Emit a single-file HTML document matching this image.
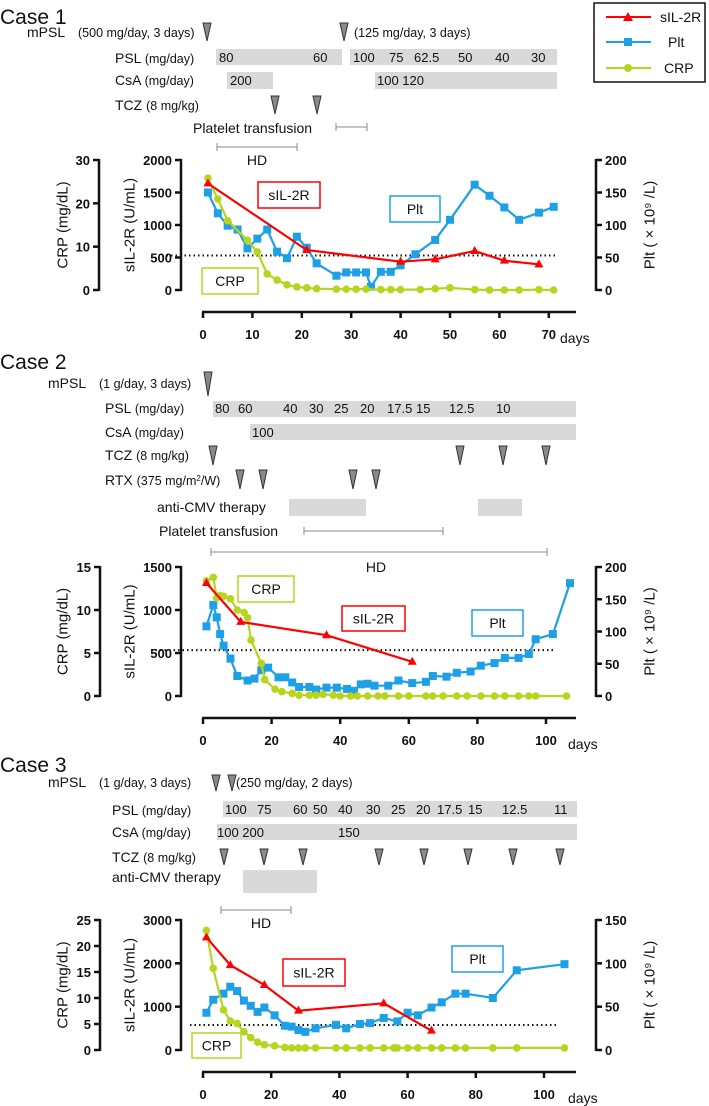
<!DOCTYPE html>
<html><head><meta charset="utf-8">
<style>
body{margin:0;background:#fff;}
svg{display:block;font-family:"Liberation Sans",sans-serif;}
.lbl{font-size:14px;fill:#111}
.sm{font-size:12.5px;fill:#111}
.num{font-size:13px;fill:#111}
.tk{font-size:13px;font-weight:bold;fill:#111}
.ttl{font-size:15px;fill:#111}
</style></head>
<body>
<svg id="fig" width="709" height="1106" viewBox="0 0 709 1106" xmlns="http://www.w3.org/2000/svg">
<g>
<rect x="594" y="3" width="111" height="79" fill="#fff" stroke="#111" stroke-width="1.5"/>
<g><line x1="606" y1="17" x2="651" y2="17" stroke="#ff0000" stroke-width="2"/><polygon points="628,12 633,21 623,21" fill="#ff0000"/><text x="660" y="22" class="lbl">sIL-2R</text></g>
<g><line x1="606" y1="42" x2="651" y2="42" stroke="#1ea0e6" stroke-width="2"/><rect x="624" y="38" width="8" height="8" fill="#1ea0e6"/><text x="668" y="47" class="lbl">Plt</text></g>
<g><line x1="606" y1="68" x2="651" y2="68" stroke="#b8d41c" stroke-width="2"/><circle cx="628" cy="68" r="4" fill="#b8d41c"/><text x="664" y="73" class="lbl">CRP</text></g>
</g>

<g>
<text x="0" y="24" font-size="21" fill="#111">Case 1</text>
<text x="27" y="37" class="lbl">mPSL</text><text x="78" y="37" class="sm">(500 mg/day, 3 days)</text>
<text x="354" y="37" class="sm">(125 mg/day, 3 days)</text>
<text x="115" y="63" class="lbl">PSL <tspan class="sm">(mg/day)</tspan></text>
<rect x="216" y="49" width="126" height="16" fill="#d9d9d9"/>
<rect x="350" y="49" width="207" height="16" fill="#d9d9d9"/>
<text y="62" class="num"><tspan x="219">80</tspan><tspan x="313">60</tspan><tspan x="353">100</tspan><tspan x="389">75</tspan><tspan x="414">62.5</tspan><tspan x="458">50</tspan><tspan x="495">40</tspan><tspan x="531">30</tspan></text>
<text x="115" y="85" class="lbl">CsA <tspan class="sm">(mg/day)</tspan></text>
<rect x="227" y="72" width="46" height="17" fill="#d9d9d9"/>
<rect x="375" y="72" width="182" height="17" fill="#d9d9d9"/>
<text y="85" class="num"><tspan x="230">200</tspan><tspan x="377">100 120</tspan></text>
<text x="115" y="110" class="lbl">TCZ <tspan class="sm">(8 mg/kg)</tspan></text>
<text x="193" y="133" class="lbl">Platelet transfusion</text>
<path d="M336 123v8M336 127H367M367 123v8" stroke="#888" fill="none"/>
<path d="M217 143v8M217 147H297M297 143v8" stroke="#888" fill="none"/>
<text x="257" y="165" class="lbl" text-anchor="middle">HD</text>
</g>

<g>
<text x="0" y="369" font-size="21" fill="#111">Case 2</text>
<text x="48" y="388" class="lbl">mPSL</text><text x="99" y="388" class="sm">(1 g/day, 3 days)</text>
<text x="105" y="413" class="lbl">PSL <tspan class="sm">(mg/day)</tspan></text>
<rect x="213" y="401" width="363" height="16" fill="#d9d9d9"/>
<text y="413" class="num"><tspan x="215">80</tspan><tspan x="238">60</tspan><tspan x="283">40</tspan><tspan x="309">30</tspan><tspan x="334">25</tspan><tspan x="360">20</tspan><tspan x="387">17.5</tspan><tspan x="416">15</tspan><tspan x="449">12.5</tspan><tspan x="496">10</tspan></text>
<text x="105" y="437" class="lbl">CsA <tspan class="sm">(mg/day)</tspan></text>
<rect x="250" y="424" width="326" height="16" fill="#d9d9d9"/>
<text x="252" y="437" class="num">100</text>
<text x="105" y="460" class="lbl">TCZ <tspan class="sm">(8 mg/kg)</tspan></text>
<text x="105" y="485" class="lbl">RTX <tspan class="sm">(375 mg/m<tspan font-size="8" dy="-4">2</tspan><tspan dy="4">/W)</tspan></tspan></text>
<text x="157" y="512" class="lbl">anti-CMV therapy</text>
<rect x="289" y="499" width="77" height="17" fill="#d9d9d9"/>
<rect x="478" y="499" width="44" height="17" fill="#d9d9d9"/>
<text x="159" y="536" class="lbl">Platelet transfusion</text>
<path d="M304 527v8M304 531H443M443 527v8" stroke="#888" fill="none"/>
<path d="M211 548v8M211 552H547M547 548v8" stroke="#888" fill="none"/>
<text x="376" y="572" class="lbl" text-anchor="middle">HD</text>
</g>

<g>
<text x="0" y="772" font-size="21" fill="#111">Case 3</text>
<text x="48" y="787" class="lbl">mPSL</text><text x="99" y="787" class="sm">(1 g/day, 3 days)</text>
<text x="236" y="787" class="sm">(250 mg/day, 2 days)</text>
<text x="112" y="815" class="lbl">PSL <tspan class="sm">(mg/day)</tspan></text>
<rect x="223" y="801" width="354" height="16" fill="#d9d9d9"/>
<text y="814" class="num"><tspan x="225">100</tspan><tspan x="257">75</tspan><tspan x="293">60</tspan><tspan x="313">50</tspan><tspan x="338">40</tspan><tspan x="366">30</tspan><tspan x="391">25</tspan><tspan x="416">20</tspan><tspan x="437">17.5</tspan><tspan x="468">15</tspan><tspan x="502">12.5</tspan><tspan x="554">11</tspan></text>
<text x="112" y="837" class="lbl">CsA <tspan class="sm">(mg/day)</tspan></text>
<rect x="217" y="824" width="360" height="16" fill="#d9d9d9"/>
<text y="837" class="num"><tspan x="217">100 200</tspan><tspan x="338">150</tspan></text>
<text x="112" y="862" class="lbl">TCZ <tspan class="sm">(8 mg/kg)</tspan></text>
<text x="112" y="882" class="lbl">anti-CMV therapy</text>
<rect x="243" y="870" width="74" height="23" fill="#d9d9d9"/>
<path d="M221 906v8M221 910H291M291 906v8" stroke="#888" fill="none"/>
<text x="261" y="928" class="lbl" text-anchor="middle">HD</text>
</g>
</svg>
<script>
const c1SilDays = [1, 21, 40, 47, 55, 61, 68];
const c1Sil = [1640, 615, 436, 472, 600, 451, 395];
const c1PltDays = [1,3,5,7,9,11,13,15,17,19,21,23,27,29,31,33,34,36,38,40,43,47,50,55,58,61,64,68,71];
const c1Plt = [150,118,99,93,64,79,93,59,49,82,65,41,22,27,27,27,5,28,28,38,55,77,108,162,145,127,108,119,128];
const c1CrpDays = [1,3,5,9,11,13,15,17,19,21,23,27,29,31,33,36,38,40,44,47,50,55,58,61,64,68,71];
const c1Crp = [25.8,21,16,11.5,8.8,3.7,2.3,1.2,0.7,0.5,0.3,0.2,0.2,0.2,0.2,0.1,0.1,0.1,0.1,0.3,0.5,0.1,0,0,0,0.1,0];
const c1XTicks = [0,10,20,30,40,50,60,70];
const c1CrpTicks = [0,10,20,30];
const c1SilTicks = [0,500,1000,1500,2000];
const c1PltTicks = [0,50,100,150,200];
const c2SilDays = [1, 11, 36, 61];
const c2Sil = [1314, 862, 707, 398];
const c2PltDays = [1,3,4,5,6,8,10,13,15,17,19,22,24,26,28,31,33,36,39,42,44,46,48,50,54,57,61,65,67,71,74,78,81,85,88,92,95,97,102,107];
const c2Plt = [108,141,122,96,78,58,31,24,27,40,44,29,29,21,14,14,10,13,13,11,8,18,19,16,16,24,20,22,31,30,36,38,47,51,59,59,65,88,96,175];
const c2CrpDays = [1,3,4,5,6,8,10,12,13,14,17,18,21,23,26,28,31,33,35,38,40,43,45,48,51,53,57,60,65,67,70,74,77,81,85,88,92,95,97,106];
const c2Crp = [13.4,13.8,11.4,11.7,11.6,11.3,10,9.7,9.1,6.5,3.8,1.9,0.8,0.5,0.3,0.1,0.1,0.1,0.2,0.1,0,0,0,0,0,0,0,0,0,0,0,0,0,0,0,0,0,0,0,0];
const c2XTicks = [0,20,40,60,80,100];
const c2CrpTicks = [0,5,10,15];
const c2SilTicks = [0,500,1000,1500];
const c2PltTicks = [0,50,100,150,200];
const c3SilDays = [1, 8, 18, 28, 53, 67];
const c3Sil = [2600, 1960, 1500, 908, 1077, 446];
const c3PltDays = [1,3,6,8,10,12,14,16,18,21,24,26,28,30,33,39,42,46,49,53,57,60,63,67,70,74,77,85,92,106];
const c3Plt = [43,58,65,73,68,57,51,44,49,40,28,27,23,21,25,29,25,30,31,37,33,43,40,49,55,65,65,60,92,99];
const c3CrpDays = [1,3,6,8,10,12,14,16,18,21,24,26,28,30,33,39,42,46,49,53,56,57,60,63,67,70,74,77,85,92,106];
const c3Crp = [23,15.7,7.7,5.6,5.1,3.5,2.4,1.5,1.0,0.8,0.5,0.4,0.4,0.4,0.4,0.4,0.4,0.4,0.4,0.4,0.4,0.4,0.4,0.4,0.4,0.4,0.4,0.4,0.4,0.4,0.4];
const c3XTicks = [0,20,40,60,80,100];
const c3CrpTicks = [0,5,10,15,20,25];
const c3SilTicks = [0,1000,2000,3000];
const c3PltTicks = [0,50,100,150];
const c1MpslX = [207, 344];
const c1TczX = [275, 317];
const c2MpslX = [208];
const c2TczX = [213, 460, 503, 546];
const c2RtxX = [240, 263, 353, 376];
const c3MpslX = [216, 232];
const c3TczX = [224, 264, 303, 379, 424, 468, 513, 560];

const NS = 'http://www.w3.org/2000/svg';
const svg = document.getElementById('fig');
function mk(tag, attrs, parent) {
  const e = document.createElementNS(NS, tag);
  for (const k in attrs) e.setAttribute(k, attrs[k]);
  (parent || svg).appendChild(e);
  return e;
}
const RED = '#ff0000', BLUE = '#1ea0e6', GREEN = '#b8d41c';

function tri(x, y, h) {
  const t = mk('polygon', {points: (x-4)+','+y+' '+(x+4)+','+y+' '+x+','+(y+h), fill: '#8a8a8a', stroke: '#333', 'stroke-width': 1});
  
  
}
c1MpslX.forEach(x => tri(x, 23, 18));
c1TczX.forEach(x => tri(x, 96, 18));
c2MpslX.forEach(x => tri(x, 372, 24));
c2TczX.forEach(x => tri(x, 446, 19));
c2RtxX.forEach(x => tri(x, 470, 19));
c3MpslX.forEach(x => tri(x, 775, 16));
c3TczX.forEach(x => tri(x, 849, 16));

function chart(c) {
  const g = mk('g', {});
  
  
  const xs = d => c.x0 + d * c.ppd;
  const ys = (v, max) => c.yBot - v / max * (c.yBot - c.yTop);
  const crpMax = c.crpTicks[c.crpTicks.length-1], silMax = c.silTicks[c.silTicks.length-1], pltMax = c.pltTicks[c.pltTicks.length-1];
  const axes = [[c.crpX, c.crpTicks, 'crp-axis', -1], [c.silX, c.silTicks, 'sil2r-axis', -1], [c.pltX, c.pltTicks, 'plt-axis', 1]];
  axes.forEach(([ax, ticks, nm, side]) => {
    const a = mk('g', {}, g);
    
    
    mk('line', {x1: ax, y1: c.yTop - 1, x2: ax, y2: c.yBot + 1, stroke: '#111', 'stroke-width': 2.5}, a);
    const max = ticks[ticks.length-1];
    ticks.forEach(t => {
      const y = ys(t, max);
      mk('line', {x1: ax, y1: y, x2: ax + side * 6, y2: y, stroke: '#111', 'stroke-width': 2.5}, a);
      const tx = mk('text', {x: ax + side * 9, y: y + 5, class: 'tk', 'text-anchor': side < 0 ? 'end' : 'start'}, a);
      tx.textContent = t;
    });
  });
  const midY = (c.yTop + c.yBot) / 2;
  [[c.crpTitleX, 'CRP (mg/dL)', 'crp-axis-title'], [c.silTitleX, 'sIL-2R (U/mL)', 'sil2r-axis-title'], [c.pltTitleX, 'Plt ( \u00d7 10\u2079 /L)', 'plt-axis-title']].forEach(([x, s, nm]) => {
    const t = mk('text', {x: x, y: midY, class: 'ttl', 'text-anchor': 'middle', transform: 'rotate(-90 ' + x + ' ' + midY + ')', 'dominant-baseline': 'central'}, g);
    t.textContent = s;
    
    
  });
  const xa = mk('g', {}, g);
  
  
  mk('line', {x1: c.x0 - 1, y1: c.xAxisY, x2: c.xEnd, y2: c.xAxisY, stroke: '#111', 'stroke-width': 2.5}, xa);
  c.xTicks.forEach(t => {
    const x = xs(t);
    mk('line', {x1: x, y1: c.xAxisY, x2: x, y2: c.xAxisY + 6, stroke: '#111', 'stroke-width': 2.5}, xa);
    const tx = mk('text', {x: x, y: c.xAxisY + 27, class: 'tk', 'text-anchor': 'middle'}, xa);
    tx.textContent = t;
  });
  const dl = mk('text', {x: c.daysX, y: c.xAxisY + 31, class: 'lbl'}, xa);
  dl.textContent = 'days';
  const dy = ys(c.refVal, silMax);
  const ref = mk('line', {x1: c.refX1, y1: dy, x2: c.refX2, y2: dy, stroke: '#111', 'stroke-width': 2, 'stroke-dasharray': '1.5 3'}, g);
  
  
  function series(days, vals, max, color, shape, nm) {
    const sg = mk('g', {}, g);
    
    
    const pts = days.map((d, i) => xs(d).toFixed(1) + ',' + ys(vals[i], max).toFixed(1)).join(' ');
    mk('polyline', {points: pts, fill: 'none', stroke: color, 'stroke-width': 2.2}, sg);
    days.forEach((d, i) => {
      const x = xs(d), y = ys(vals[i], max);
      let m;
      if (shape === 'sq') m = mk('rect', {x: x - 4, y: y - 4, width: 8, height: 8, fill: color}, sg);
      else if (shape === 'ci') m = mk('circle', {cx: x, cy: y, r: 3.8, fill: color}, sg);
      else m = mk('polygon', {points: x + ',' + (y - 5) + ' ' + (x + 4.5) + ',' + (y + 3) + ' ' + (x - 4.5) + ',' + (y + 3), fill: color}, sg);
      
      
    });
  }
  series(c.pltDays, c.plt, pltMax, BLUE, 'sq', 'plt-series');
  series(c.crpDays, c.crp, crpMax, GREEN, 'ci', 'crp-series');
  series(c.silDays, c.sil, silMax, RED, 'tr', 'sil2r-series');
  c.boxes.forEach(([x, y, w, h, color, s, nm]) => {
    const bg = mk('g', {}, g);
    
    
    mk('rect', {x: x, y: y, width: w, height: h, fill: '#fff', stroke: color, 'stroke-width': 1.5}, bg);
    const t = mk('text', {x: x + w / 2, y: y + h / 2 + 5, class: 'lbl', 'text-anchor': 'middle'}, bg);
    t.textContent = s;
  });
}

chart({name: 'case1-chart', x0: 203, ppd: 4.94, xEnd: 576, xAxisY: 312, yTop: 160, yBot: 290,
  crpX: 99, silX: 181, pltX: 596, crpTitleX: 63, silTitleX: 130, pltTitleX: 650, daysX: 560,
  refVal: 530, refX1: 162, refX2: 557,
  xTicks: c1XTicks, crpTicks: c1CrpTicks, silTicks: c1SilTicks, pltTicks: c1PltTicks,
  silDays: c1SilDays, sil: c1Sil, pltDays: c1PltDays, plt: c1Plt, crpDays: c1CrpDays, crp: c1Crp,
  boxes: [[258, 182, 62, 26, RED, 'sIL-2R', 'sil2r-label-box'], [390, 196, 50, 26, BLUE, 'Plt', 'plt-label-box'], [202, 268, 56, 26, GREEN, 'CRP', 'crp-label-box']]});

chart({name: 'case2-chart', x0: 203, ppd: 3.43, xEnd: 576, xAxisY: 718, yTop: 567, yBot: 696,
  crpX: 100, silX: 181, pltX: 596, crpTitleX: 63, silTitleX: 130, pltTitleX: 650, daysX: 568,
  refVal: 533, refX1: 151, refX2: 556,
  xTicks: c2XTicks, crpTicks: c2CrpTicks, silTicks: c2SilTicks, pltTicks: c2PltTicks,
  silDays: c2SilDays, sil: c2Sil, pltDays: c2PltDays, plt: c2Plt, crpDays: c2CrpDays, crp: c2Crp,
  boxes: [[238, 576, 56, 26, GREEN, 'CRP', 'crp-label-box'], [342, 606, 63, 25, RED, 'sIL-2R', 'sil2r-label-box'], [472, 610, 51, 26, BLUE, 'Plt', 'plt-label-box']]});

chart({name: 'case3-chart', x0: 203, ppd: 3.41, xEnd: 576, xAxisY: 1072, yTop: 920, yBot: 1050,
  crpX: 100, silX: 181, pltX: 596, crpTitleX: 63, silTitleX: 130, pltTitleX: 650, daysX: 568,
  refVal: 577, refX1: 190, refX2: 557,
  xTicks: c3XTicks, crpTicks: c3CrpTicks, silTicks: c3SilTicks, pltTicks: c3PltTicks,
  silDays: c3SilDays, sil: c3Sil, pltDays: c3PltDays, plt: c3Plt, crpDays: c3CrpDays, crp: c3Crp,
  boxes: [[283, 959, 62, 27, RED, 'sIL-2R', 'sil2r-label-box'], [452, 946, 51, 26, BLUE, 'Plt', 'plt-label-box'], [192, 1033, 49, 25, GREEN, 'CRP', 'crp-label-box']]});
</script>
</body></html>
